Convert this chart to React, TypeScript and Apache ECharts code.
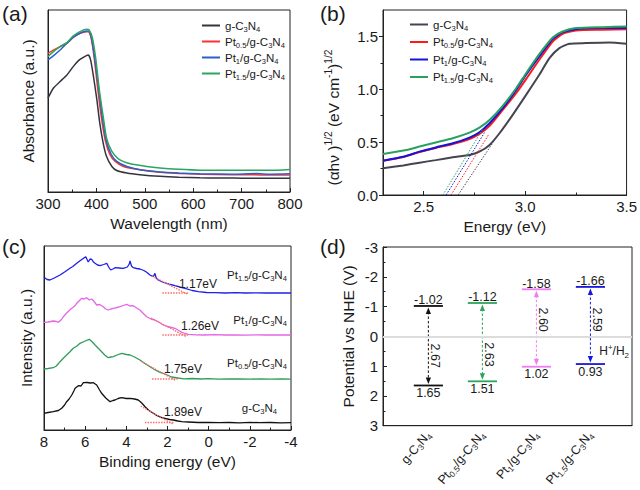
import React, { useEffect, useRef } from 'react';
import * as echarts from 'echarts';

const FF = 'Arial, "Liberation Sans", Helvetica, sans-serif';
const INK = '#1a1a1a';

// sample names, {s|..} = subscript
const sampleNames = [
  'g-C{s|3}N{s|4}',
  'Pt{s|0.5}/g-C{s|3}N{s|4}',
  'Pt{s|1}/g-C{s|3}N{s|4}',
  'Pt{s|1.5}/g-C{s|3}N{s|4}',
];

// ---------- (a) UV-vis absorbance [wavelength nm, absorbance a.u.]
const absG = [[300,51.6],[311,57],[325,60.7],[339,64.3],[352,68.9],[363,72.2],[373,74],[383,75.3],[388,72.6],[394,63.4],[401,50.6],[407,37.8],[414,26.9],[421,19.5],[432,14],[442,11.8],[463,10.4],[490,9.5],[531,8.6],[570,8.1],[614,7.8],[650,7.7],[683,7.7],[720,7.5],[760,7.5],[800,7.5]];
const absPt05 = [[300,76.2],[311,78],[325,79.9],[339,81.7],[352,85],[366,87.2],[380,88.1],[385,87.8],[390,83.5],[396,72.6],[403,56.1],[410,41.5],[418,28.7],[428,20.5],[439,16.8],[456,14],[490,12.2],[531,10.8],[570,10.2],[614,9.8],[680,9.5],[740,9.4],[800,9.4]];
const absPt1 = [[300,72.6],[311,74.8],[325,78],[339,81.7],[352,85],[366,87.2],[380,88.5],[385,88.3],[390,84.4],[397,72.6],[405,56.1],[412,41.5],[420,28.7],[430,21],[442,16.8],[463,14],[490,12.2],[531,11],[570,10.4],[614,10],[680,9.8],[730,10.1],[760,9.8],[800,10]];
const absPt15 = [[300,74.4],[311,77.1],[325,79.9],[339,82.1],[352,85.7],[366,88.1],[380,89.4],[385,89],[392,84.4],[399,72.6],[406,56.1],[414,41.5],[421,29.6],[432,22.3],[446,18.1],[470,15.5],[504,14],[531,13.2],[570,12.5],[614,12],[700,11.9],[760,11.9],[800,12.4]];
const aColors = ['#34343f', '#ff3030', '#2a5fcc', '#2ca55e'];

// ---------- (b) Tauc plot [energy eV, (ahv)^1/2]
const taucG = [[2.3,0.253],[2.4,0.28],[2.48,0.306],[2.56,0.33],[2.644,0.357],[2.726,0.379],[2.775,0.41],[2.825,0.474],[2.874,0.584],[2.939,0.758],[3.005,0.947],[3.07,1.137],[3.12,1.295],[3.169,1.389],[3.218,1.43],[3.3,1.437],[3.415,1.443],[3.5,1.43]];
const taucPt05 = [[2.3,0.325],[2.4,0.36],[2.48,0.407],[2.56,0.445],[2.644,0.483],[2.726,0.53],[2.775,0.578],[2.825,0.654],[2.89,0.805],[2.956,0.963],[3.005,1.096],[3.07,1.279],[3.136,1.452],[3.185,1.525],[3.25,1.557],[3.382,1.563],[3.5,1.569]];
const taucPt1 = [[2.3,0.325],[2.4,0.362],[2.48,0.41],[2.56,0.45],[2.644,0.489],[2.726,0.543],[2.775,0.594],[2.825,0.679],[2.89,0.821],[2.956,0.995],[3.005,1.137],[3.07,1.31],[3.136,1.475],[3.185,1.538],[3.25,1.569],[3.382,1.579],[3.5,1.579]];
const taucPt15 = [[2.3,0.388],[2.4,0.42],[2.48,0.458],[2.56,0.497],[2.644,0.537],[2.726,0.59],[2.775,0.638],[2.825,0.71],[2.89,0.843],[2.956,1.01],[3.005,1.152],[3.07,1.332],[3.136,1.49],[3.185,1.547],[3.25,1.579],[3.382,1.588],[3.5,1.595]];
// extrapolated tangents [x1, y1, x2, y2]
const taucTangents = [[2.67,0,2.85,0.52],[2.635,0,2.82,0.57],[2.611,0,2.8,0.59],[2.595,0,2.79,0.62]];
const bColors = ['#454552', '#ff1a1a', '#1414dc', '#2aa060'];
const taucTicks = [2.5, 3.0, 3.5];
const taucMinorTicks = [2.75, 3.25];
const taucYTicks = [0, 0.5, 1.0, 1.5];
const taucYMinorTicks = [0.25, 0.75, 1.25];

// ---------- (c) XPS valence band [binding energy eV, intensity a.u., curves offset]
const vbG = [[8,16.7],[7.8,17.5],[7.55,18.3],[7.3,19.5],[7.14,21.7],[7.0,25],[6.9,28.3],[6.78,31],[6.65,35],[6.55,39],[6.49,41.7],[6.33,44.3],[6.2,44],[6.09,47.3],[5.9,47.5],[5.75,47],[5.6,47.3],[5.44,45],[5.3,40],[5.2,36.7],[5.0,32],[4.79,28.3],[4.65,29.5],[4.55,30],[4.4,31.5],[4.23,32.3],[4.0,31.5],[3.82,31.7],[3.6,31],[3.42,30],[3.25,27],[3.09,23.3],[2.9,19.5],[2.69,16.7],[2.5,14.3],[2.28,12.3],[2.12,11.7],[1.9,10.5],[1.72,10],[1.5,9],[1.31,8.3],[1.0,8],[0.5,7.5],[0,7.6],[-0.5,7.3],[-1,7.5],[-1.5,7.2],[-2,7.6],[-2.5,7.3],[-3,7.5],[-3.5,7.2],[-4,7.3]];
const vbPt05 = [[8,61],[7.8,61.5],[7.55,62.3],[7.4,64],[7.22,68.3],[7.05,72],[6.9,75],[6.75,78],[6.58,81.7],[6.4,84],[6.25,86.7],[6.0,89],[5.8,90.7],[5.65,88],[5.52,85],[5.35,81.5],[5.2,78.3],[5.05,75],[4.88,72.3],[4.75,73],[4.63,73.3],[4.45,75],[4.23,76.7],[4.0,75.5],[3.82,75],[3.6,73],[3.34,70],[3.1,66.5],[2.85,63.3],[2.6,60],[2.36,57.7],[2.12,56],[1.8,53],[1.49,52],[1.2,51.2],[0.8,51.5],[0.4,51],[0,51.3],[-0.5,50.8],[-1,51.2],[-1.5,51],[-2,50.8],[-2.5,51.1],[-3,50.8],[-3.5,51],[-4,50.8]];
const vbPt1 = [[8,107.7],[7.8,108],[7.55,109],[7.4,108.5],[7.3,107.7],[7.15,110.5],[7.06,113.3],[6.9,117],[6.75,120],[6.65,121.7],[6.5,124],[6.41,126.7],[6.3,129],[6.17,131.7],[6.05,131],[5.93,132.3],[5.8,130],[5.68,131],[5.55,128],[5.44,125],[5.3,125.5],[5.12,123.3],[5.0,121],[4.88,120],[4.75,121],[4.63,121.7],[4.45,122.5],[4.31,123.3],[4.15,124.5],[3.98,125.7],[3.82,124],[3.66,124.3],[3.5,122],[3.34,120],[3.15,116],[3.01,113.3],[2.8,111],[2.61,110],[2.4,107.5],[2.2,105],[2.0,103.5],[1.8,102.5],[1.64,101.7],[1.45,99.5],[1.31,97.7],[1.15,96.5],[0.99,95.7],[0.6,95.2],[0.2,95],[-0.3,95.3],[-0.8,95],[-1.3,95.2],[-1.8,94.9],[-2.3,95.1],[-2.8,95],[-3.3,95.2],[-4,95]];
const vbPt15 = [[8,152.7],[7.85,150.5],[7.71,150],[7.5,152],[7.22,155],[7.0,158],[6.74,161.7],[6.6,163.5],[6.41,166.7],[6.2,170],[5.97,173.3],[5.85,168],[5.76,171],[5.68,170.7],[5.6,168],[5.52,166.7],[5.4,165],[5.28,164.3],[5.1,165.5],[4.95,166.7],[4.86,163],[4.76,160],[4.65,161],[4.55,162.3],[4.35,162],[4.15,161.7],[3.95,163],[3.86,166],[3.82,169],[3.75,164],[3.66,162.3],[3.5,161.5],[3.34,161],[3.15,159.5],[3.01,157.7],[2.85,155],[2.69,153.3],[2.61,156.7],[2.55,152],[2.45,150],[2.25,148],[2.04,146.7],[1.85,145.5],[1.64,144.3],[1.4,143],[1.15,141.7],[0.8,139.5],[0.5,138.3],[0.1,137.5],[-0.31,137.3],[-0.8,137],[-1.3,137.3],[-1.8,137],[-2.3,137.2],[-2.8,137],[-3.3,137.2],[-4,137]];
const cColors = ['#111111', '#2e9d5b', '#e466e4', '#1f1fe8'];
const vbmValues = [1.89, 1.75, 1.26, 1.17];
// red dotted baselines and leading-edge tangents [x1, y1, x2, y2]
const vbBaselines = [[3.1,7.5,1.7,7.5],[2.75,51,1.5,51],[2.25,95,1.0,95],[2.25,137,1.0,137]];
const vbTangents = [[3.3,24,1.75,6],[3.3,69,1.6,49.5],[2.8,112,1.1,93.5],[2.75,154,1.05,136]];
// annotation anchors (data coords)
const vbmLabelAt = [[1.25,18],[1.25,61],[0.42,104],[0.52,146]];
const sampleLabelAt = [[-3.32,22],[-3.8,67],[-3.8,110],[-3.8,155]];

// ---------- (d) band positions (V vs NHE)
const cbPositions = [-1.02, -1.12, -1.58, -1.66];
const vbPositions = [1.65, 1.51, 1.02, 0.93];
const bandGaps = ['2.67', '2.63', '2.60', '2.59'];
const gapLabelAt = [0.65, 0.61, -0.56, -0.56];
const dColors = ['#111111', '#2aa55a', '#f07cf0', '#1717dd'];
const dTicks = [1, 2, 3, 4];

const subRich = (size: number, color = INK) => ({
  s: { fontSize: size * 0.66, lineHeight: size * 0.75, verticalAlign: 'bottom', fontFamily: FF, color },
  p: { fontSize: size * 0.66, lineHeight: size * 0.75, verticalAlign: 'top', fontFamily: FF, color },
});

const tickLabel = { color: INK, fontSize: 15, fontFamily: FF };
const nameStyle = { color: INK, fontSize: 15.5, fontFamily: FF };
const axLine = { show: true, onZero: false, lineStyle: { color: '#222', width: 1 } };
const noSplit = { show: false };

function segSeries(xi: number, segs: number[][], colors: string[] | string, dash: number[], width: number) {
  return {
    type: 'custom',
    xAxisIndex: xi,
    yAxisIndex: xi,
    silent: true,
    z: 3,
    data: segs.map((s, i) => [s[0], s[1], s[2], s[3], i]),
    renderItem: (params: any, api: any) => {
      const p1 = api.coord([api.value(0), api.value(1)]);
      const p2 = api.coord([api.value(2), api.value(3)]);
      const col = Array.isArray(colors) ? colors[params.dataIndex] : colors;
      return {
        type: 'line',
        shape: { x1: p1[0], y1: p1[1], x2: p2[0], y2: p2[1] },
        style: { stroke: col, lineWidth: width, lineDash: dash },
      };
    },
  };
}

function lineSeries(name: string, data: number[][], color: string, xi: number, width: number, smooth: number | boolean) {
  return {
    name,
    type: 'line',
    xAxisIndex: xi,
    yAxisIndex: xi,
    data,
    showSymbol: false,
    symbol: 'none',
    smooth,
    color,
    lineStyle: { color, width },
    itemStyle: { color },
    z: 2,
  };
}

function buildOption() {
  const grids = [
    { left: 48, top: 10, width: 242, height: 182 },
    { left: 383, top: 10, width: 244, height: 185 },
    { left: 44, top: 246, width: 247, height: 184 },
    { left: 383, top: 247, width: 249, height: 185 },
  ].map((g) => ({ ...g, show: true, borderColor: '#222', borderWidth: 1, backgroundColor: 'transparent' }));

  const xAxis: any[] = [
    {
      gridIndex: 0, type: 'value', min: 300, max: 800, interval: 100,
      axisLine: axLine, splitLine: noSplit,
      axisTick: { inside: true, length: 4, lineStyle: { color: '#222' } },
      minorTick: { show: true, splitNumber: 2, length: 2.5, lineStyle: { color: '#222' } },
      axisLabel: { ...tickLabel, margin: 4 },
      name: 'Wavelength (nm)', nameLocation: 'middle', nameGap: 23, nameTextStyle: nameStyle,
    },
    {
      gridIndex: 1, type: 'value', min: 2.3, max: 3.5, position: 'bottom',
      axisLine: axLine, splitLine: noSplit,
      axisTick: { inside: true, length: 4, customValues: taucTicks, lineStyle: { color: '#222' } },
      axisLabel: { ...tickLabel, margin: 4, customValues: taucTicks, formatter: (v: number) => v.toFixed(1) },
      name: 'Energy (eV)', nameLocation: 'middle', nameGap: 23, nameTextStyle: nameStyle,
    },
    {
      gridIndex: 2, type: 'value', min: -4, max: 8, interval: 2, inverse: true,
      axisLine: axLine, splitLine: noSplit,
      axisTick: { inside: true, length: 4, lineStyle: { color: '#222' } },
      minorTick: { show: true, splitNumber: 2, length: 2.5, lineStyle: { color: '#222' } },
      axisLabel: { ...tickLabel, margin: 4 },
      name: 'Binding energy (eV)', nameLocation: 'middle', nameGap: 23, nameTextStyle: nameStyle,
    },
    {
      gridIndex: 3, type: 'value', min: 0.16, max: 4.77, position: 'bottom',
      axisLine: axLine, splitLine: noSplit,
      axisTick: { show: false },
      axisLabel: {
        ...tickLabel, fontSize: 12.5, margin: 7, rotate: 50, customValues: dTicks,
        formatter: (v: number) => sampleNames[Math.round(v) - 1] || '',
        lineHeight: 16, rich: subRich(12.5),
      },
    },
    {
      gridIndex: 1, type: 'value', min: 2.3, max: 3.5, position: 'bottom',
      axisLine: { show: false, onZero: false }, splitLine: noSplit,
      axisTick: { inside: true, length: 2.5, customValues: taucMinorTicks, lineStyle: { color: '#222' } },
      axisLabel: { show: false },
    },
  ];

  const yAxis: any[] = [
    {
      gridIndex: 0, type: 'value', min: 0, max: 100,
      axisLine: axLine, splitLine: noSplit, axisTick: { show: false }, axisLabel: { show: false },
      name: 'Absorbance (a.u.)', nameLocation: 'middle', nameGap: 12, nameTextStyle: nameStyle,
    },
    {
      gridIndex: 1, type: 'value', min: 0, max: 1.75, position: 'left',
      axisLine: axLine, splitLine: noSplit,
      axisTick: { inside: false, length: 4, customValues: taucYTicks, lineStyle: { color: '#222' } },
      axisLabel: { ...tickLabel, margin: 5, customValues: taucYTicks, formatter: (v: number) => v.toFixed(1) },
      name: '(αhν ){p|1/2} (eV cm{p|-1}){p|1/2}', nameLocation: 'middle', nameGap: 40,
      nameTextStyle: { ...nameStyle, lineHeight: 20, padding: [0, 30, 0, 0], rich: subRich(15.5) },
    },
    {
      gridIndex: 2, type: 'value', min: 0, max: 184, position: 'left',
      axisLine: axLine, splitLine: noSplit, axisTick: { show: false }, axisLabel: { show: false },
      name: 'Intensity (a.u.)', nameLocation: 'middle', nameGap: 10, nameTextStyle: nameStyle,
    },
    {
      gridIndex: 3, type: 'value', min: -3, max: 3, interval: 1, inverse: true, position: 'left',
      axisLine: axLine, splitLine: noSplit,
      axisTick: { inside: true, length: 4, lineStyle: { color: '#222' } },
      minorTick: { show: true, splitNumber: 2, length: 2.5, lineStyle: { color: '#222' } },
      axisLabel: { ...tickLabel, margin: 5, formatter: (v: number) => String(v) },
      name: 'Potential vs NHE (V)', nameLocation: 'middle', nameGap: 27, nameTextStyle: nameStyle,
    },
    {
      gridIndex: 1, type: 'value', min: 0, max: 1.75, position: 'left',
      axisLine: { show: false, onZero: false }, splitLine: noSplit,
      axisTick: { inside: false, length: 2.5, customValues: taucYMinorTicks, lineStyle: { color: '#222' } },
      axisLabel: { show: false },
    },
  ];

  const aData = [absG, absPt05, absPt1, absPt15];
  const bData = [taucG, taucPt05, taucPt1, taucPt15];
  const cData = [vbG, vbPt05, vbPt1, vbPt15];

  const series: any[] = [];
  aData.forEach((d, i) => series.push(lineSeries('a' + i, d, aColors[i], 0, 1.5, 0.2)));
  bData.forEach((d, i) => series.push(lineSeries('b' + i, d, bColors[i], 1, 2, 0.2)));
  series.push(segSeries(1, taucTangents, bColors, [1.5, 1.5], 1));
  cData.forEach((d, i) => series.push(lineSeries('c' + i, d, cColors[i], 2, 1.3, false)));
  series.push(segSeries(2, vbBaselines, '#ff6a6a', [1.5, 1.2], 1.3));
  series.push(segSeries(2, vbTangents, '#ff6a6a', [1.5, 1.2], 1.3));

  // (c) annotations
  series.push({
    type: 'custom', xAxisIndex: 2, yAxisIndex: 2, silent: true, z: 4,
    data: vbmLabelAt.map((p, i) => [p[0], p[1], i]),
    renderItem: (params: any, api: any) => {
      const p = api.coord([api.value(0), api.value(1)]);
      return {
        type: 'text', x: p[0], y: p[1],
        style: { text: vbmValues[params.dataIndex].toFixed(2) + 'eV', fontSize: 12, fontFamily: FF, fill: INK, align: 'center', verticalAlign: 'middle' },
      };
    },
  });
  series.push({
    type: 'custom', xAxisIndex: 2, yAxisIndex: 2, silent: true, z: 4,
    data: sampleLabelAt.map((p, i) => [p[0], p[1], i]),
    renderItem: (params: any, api: any) => {
      const p = api.coord([api.value(0), api.value(1)]);
      return {
        type: 'text', x: p[0], y: p[1],
        style: {
          text: sampleNames[params.dataIndex], fontSize: 11.5, lineHeight: 15, fontFamily: FF, fill: INK,
          align: 'right', verticalAlign: 'middle', rich: subRich(11.5),
        },
      };
    },
  });

  // (d) band diagram
  series.push({
    type: 'custom', xAxisIndex: 3, yAxisIndex: 3, silent: true, z: 3,
    data: cbPositions.map((c, i) => [dTicks[i], c, vbPositions[i]]),
    markLine: {
      silent: true, symbol: ['none', 'none'], label: { show: false },
      lineStyle: { color: '#dcdcdc', width: 2, type: 'solid' },
      data: [{ yAxis: 0 }],
    },
    renderItem: (params: any, api: any) => {
      const i = params.dataIndex;
      const x = api.value(0);
      const cb = api.value(1);
      const vb = api.value(2);
      const pc = api.coord([x, cb]);
      const pv = api.coord([x, vb]);
      const pg = api.coord([x, gapLabelAt[i]]);
      const hw = api.size([0.27, 0])[0];
      const col = dColors[i];
      const cx = pc[0];
      const txt = { fontSize: 12.5, fontFamily: FF, fill: INK, align: 'center' };
      return {
        type: 'group',
        children: [
          { type: 'line', shape: { x1: cx - hw, y1: pc[1], x2: cx + hw, y2: pc[1] }, style: { stroke: col, lineWidth: 1.8 } },
          { type: 'line', shape: { x1: cx - hw, y1: pv[1], x2: cx + hw, y2: pv[1] }, style: { stroke: col, lineWidth: 1.8 } },
          { type: 'line', shape: { x1: cx, y1: pc[1] + 6, x2: cx, y2: pv[1] - 6 }, style: { stroke: col, lineWidth: 1, lineDash: [2.5, 2] } },
          { type: 'polygon', shape: { points: [[cx, pc[1] + 1.5], [cx - 2.6, pc[1] + 8], [cx + 2.6, pc[1] + 8]] }, style: { fill: col } },
          { type: 'polygon', shape: { points: [[cx, pv[1] - 1.5], [cx - 2.6, pv[1] - 8], [cx + 2.6, pv[1] - 8]] }, style: { fill: col } },
          { type: 'text', x: cx, y: pc[1] + 1, style: { ...txt, text: cb.toFixed(2), verticalAlign: 'bottom' } },
          { type: 'text', x: cx, y: pv[1] + 1, style: { ...txt, text: vb.toFixed(2), verticalAlign: 'top' } },
          { type: 'text', x: cx + 7, y: pg[1], rotation: -Math.PI / 2, style: { ...txt, text: bandGaps[i], verticalAlign: 'middle' } },
        ],
      };
    },
  });

  const legendBase = {
    orient: 'vertical', itemWidth: 18, itemHeight: 2, icon: 'rect',
    textStyle: { fontSize: 11.5, fontFamily: FF, color: INK, lineHeight: 15, rich: subRich(11.5) },
    selectedMode: false,
  };

  return {
    animation: false,
    backgroundColor: '#ffffff',
    textStyle: { fontFamily: FF },
    grid: grids,
    xAxis,
    yAxis,
    legend: [
      { ...legendBase, left: 197, top: 13, itemGap: 1, data: ['a0', 'a1', 'a2', 'a3'], formatter: (n: string) => sampleNames[+n.slice(1)] },
      { ...legendBase, left: 405, top: 12, itemGap: 2.5, data: ['b0', 'b1', 'b2', 'b3'], formatter: (n: string) => sampleNames[+n.slice(1)] },
    ],
    graphic: [
      { type: 'text', left: 2, top: 3, style: { text: '(a)', fontSize: 21, fontFamily: FF, fill: INK } },
      { type: 'text', left: 320, top: 3, style: { text: '(b)', fontSize: 21, fontFamily: FF, fill: INK } },
      { type: 'text', left: 2, top: 236, style: { text: '(c)', fontSize: 21, fontFamily: FF, fill: INK } },
      { type: 'text', left: 320, top: 236, style: { text: '(d)', fontSize: 21, fontFamily: FF, fill: INK } },
      {
        type: 'text', right: 11, top: 343,
        style: { text: 'H{p|+}/H{s|2}', fontSize: 12, lineHeight: 16, fontFamily: FF, fill: INK, rich: subRich(12) },
      },
    ],
    series,
  };
}

export default function App() {
  const ref = useRef<HTMLDivElement>(null);
  useEffect(() => {
    if (!ref.current) return;
    const chart = echarts.init(ref.current, null, { renderer: 'svg' });
    chart.setOption(buildOption() as any);
    return () => chart.dispose();
  }, []);
  return (
    <div
      ref={ref}
      style={{ position: 'absolute', left: 0, top: 0, width: 640, height: 490, background: '#fff' }}
    />
  );
}
